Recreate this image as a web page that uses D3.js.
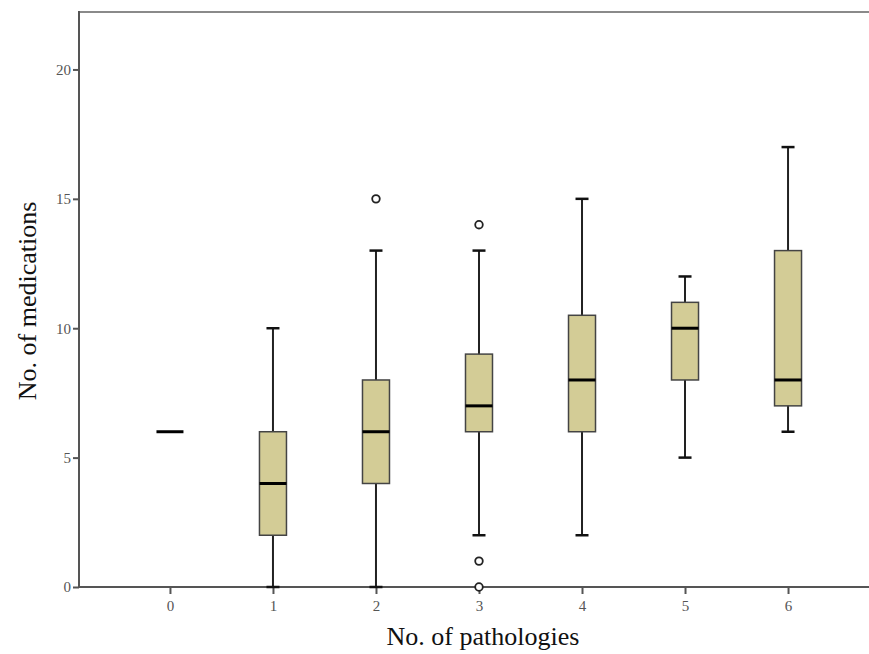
<!DOCTYPE html>
<html lang="en">
  <head>
    <meta charset="UTF-8" />
    <title>No. of medications by No. of pathologies</title>
    <script src="https://cdnjs.cloudflare.com/ajax/libs/d3/7.8.5/d3.min.js"></script>
    <style>
      body { margin: 0; background: #fff; }
      text { font-family: "Liberation Serif", "Times New Roman", serif; }
    </style>
  </head>
  <body>
    <div id="chart"></div>

    <script type="text/javascript">
      // data
      var categories = [0, 1, 2, 3, 4, 5, 6];
      var whiskLow  = [6, 0, 0, 2, 2, 5, 6];
      var q1        = [6, 2, 4, 6, 6, 8, 7];
      var medians   = [6, 4, 6, 7, 8, 10, 8];
      var q3        = [6, 6, 8, 9, 10.5, 11, 13];
      var whiskHigh = [6, 10, 13, 13, 15, 12, 17];
      var outliers  = [[2, 15], [3, 14], [3, 1], [3, 0]];
      var yTicks = [0, 5, 10, 15, 20];

      var width = 869, height = 654;
      var plotLeft = 79, plotTop = 12, plotBottom = 587;

      var svg = d3.select("#chart").append("svg")
        .attr("width", width).attr("height", height);

      var x = d3.scaleLinear().domain([-0.883, 6.786]).range([plotLeft, width]);
      var y = d3.scaleLinear().domain([0, 22.22]).range([plotBottom, plotTop]);

      var boxes = categories.map(function (c, i) {
        return { c: c, lo: whiskLow[i], q1: q1[i], med: medians[i], q3: q3[i], hi: whiskHigh[i] };
      });

      /* frame top line */
      svg.append("line")
        .attr("x1", plotLeft).attr("x2", width)
        .attr("y1", plotTop).attr("y2", plotTop)
        .style("stroke", "#8a8a8a").style("stroke-width", 2);

      /* axes */
      var yAxis = svg.append("g")
        .attr("transform", "translate(" + plotLeft + ",0)")
        .call(d3.axisLeft(y).tickValues(yTicks).tickSize(6).tickPadding(2));
      var xAxis = svg.append("g")
        .attr("transform", "translate(0," + plotBottom + ")")
        .call(d3.axisBottom(x).tickValues(categories).tickFormat(d3.format("d")).tickSize(7).tickPadding(6));

      [yAxis, xAxis].forEach(function (ax) {
        ax.attr("font-size", 15).attr("font-family", '"Liberation Serif", serif');
        ax.select(".domain").style("stroke", "#555").style("stroke-width", 2);
        ax.selectAll(".tick line").style("stroke", "#555").style("stroke-width", 2);
        ax.selectAll(".tick text").style("fill", "#555");
      });
      // left axis joins the frame, bottom axis runs to the edge
      yAxis.select(".domain").attr("d", "M0," + (plotTop - 1) + "V" + plotBottom);
      xAxis.select(".domain").attr("d", "M" + plotLeft + ",0H" + width);

      var bw = 27, cap = 13;
      var g = svg.append("g");
      var multi = boxes.filter(function (d) { return d.q3 > d.q1; });

      // whiskers
      g.selectAll("line.whisk").data(multi).enter().append("line")
        .attr("class", "whisk")
        .attr("x1", function (d) { return x(d.c); })
        .attr("x2", function (d) { return x(d.c); })
        .attr("y1", function (d) { return y(d.lo); })
        .attr("y2", function (d) { return y(d.hi); })
        .style("stroke", "#222").style("stroke-width", 2);

      ["lo", "hi"].forEach(function (k) {
        g.selectAll("line.cap-" + k).data(multi).enter().append("line")
          .attr("class", "cap-" + k)
          .attr("x1", function (d) { return x(d.c) - cap / 2; })
          .attr("x2", function (d) { return x(d.c) + cap / 2; })
          .attr("y1", function (d) { return y(d[k]); })
          .attr("y2", function (d) { return y(d[k]); })
          .style("stroke", "#111").style("stroke-width", 2.5);
      });

      // boxes
      g.selectAll("rect").data(multi).enter().append("rect")
        .attr("x", function (d) { return x(d.c) - bw / 2; })
        .attr("width", bw)
        .attr("y", function (d) { return y(d.q3); })
        .attr("height", function (d) { return y(d.q1) - y(d.q3); })
        .style("fill", "#d3cc96").style("stroke", "#444").style("stroke-width", 1.5);

      // medians
      g.selectAll("line.med").data(boxes).enter().append("line")
        .attr("class", "med")
        .attr("x1", function (d) { return x(d.c) - bw / 2; })
        .attr("x2", function (d) { return x(d.c) + bw / 2; })
        .attr("y1", function (d) { return y(d.med); })
        .attr("y2", function (d) { return y(d.med); })
        .style("stroke", "#000").style("stroke-width", 3);

      // outliers
      g.selectAll("circle").data(outliers).enter().append("circle")
        .attr("cx", function (d) { return x(d[0]); })
        .attr("cy", function (d) { return y(d[1]); })
        .attr("r", 3.8)
        .style("fill", "#fff").style("stroke", "#222").style("stroke-width", 1.8);

      // axis titles
      svg.append("text")
        .attr("transform", "translate(36,301) rotate(-90)")
        .attr("text-anchor", "middle")
        .style("font-size", "26px").style("fill", "#111")
        .text("No. of medications");
      svg.append("text")
        .attr("x", 483).attr("y", 645)
        .attr("text-anchor", "middle")
        .style("font-size", "26px").style("fill", "#111")
        .text("No. of pathologies");
    </script>
  </body>
</html>
